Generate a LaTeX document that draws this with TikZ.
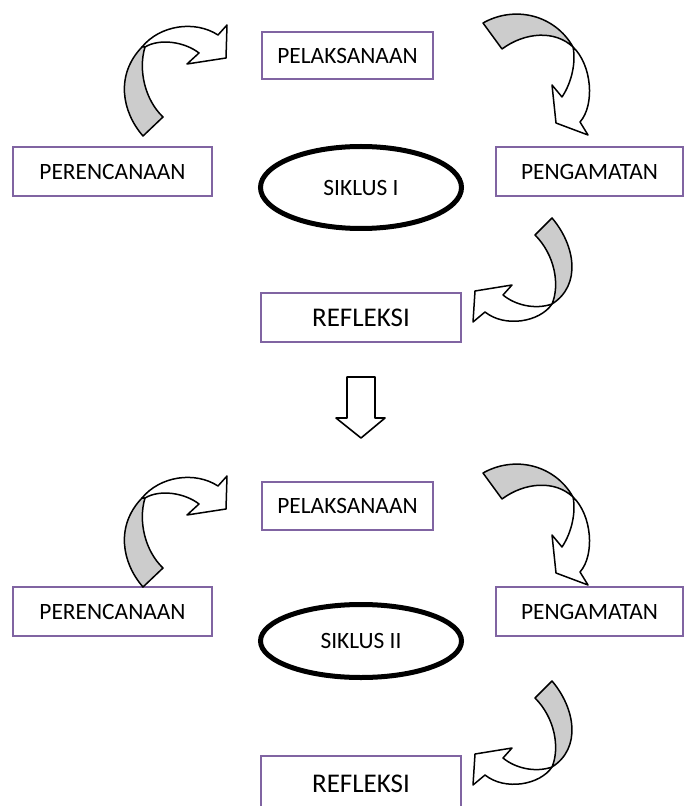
\documentclass[tikz,border=0pt]{standalone}
\usepackage{fontspec}
\setmainfont{Carlito}
\usetikzlibrary{shapes.geometric}
\definecolor{boxpurple}{RGB}{128,100,162}
\definecolor{arrgray}{RGB}{204,204,204}
\tikzset{
  box/.style={draw=boxpurple, line width=1pt, fill=white, inner sep=0pt,
    font=\fontsize{11.7}{14}\selectfont},
  bigbox/.style={box, font=\fontsize{13.5}{16}\selectfont},
  cyc/.style={ellipse, draw=black, line width=2.5pt, inner sep=0pt,
    minimum width=100.5pt, font=\fontsize{11.7}{14}\selectfont},
  arrline/.style={draw=black, line width=0.75pt, line join=round},
  arrA/.pic={
    \path[arrline, fill=white] (142,47) .. controls (160,25) and (195,20) .. (218,35)
      -- (227,25) -- (226,58) -- (187,64) -- (199,53)
      .. controls (185,42) and (160,38) .. (145,47) -- cycle;
    \path[arrline, fill=arrgray] (143,136) .. controls (122,112) and (115,75) .. (142,47)
      -- (145,47) .. controls (138,70) and (145,100) .. (163,117) -- cycle;
  },
  arrB/.pic={
    \path[arrline, fill=white] (573,47) .. controls (592,65) and (595,105) .. (580,122)
      -- (588,135) -- (556,123) -- (552,85) -- (562,97)
      .. controls (572,82) and (576,62) .. (573,47) -- cycle;
    \path[arrline, fill=arrgray] (483,23) .. controls (515,5) and (555,15) .. (573,47)
      .. controls (555,30) and (525,32) .. (502,49) -- cycle;
  },
  arrC/.pic={
    \path[arrline, fill=white] (552,304) .. controls (540,322) and (505,328) .. (485,312)
      -- (473,322) -- (475,291) -- (512,285) -- (503,295)
      .. controls (515,305) and (535,310) .. (552,304) -- cycle;
    \path[arrline, fill=arrgray] (535,235) -- (552,218)
      .. controls (575,245) and (582,285) .. (552,304)
      .. controls (560,285) and (555,255) .. (535,235) -- cycle;
  }
}
\begin{document}
\begin{tikzpicture}[x=0.5pt, y=-0.5pt]
\useasboundingbox[fill=white] (0,0) rectangle (684,806);

% ---- Cycle I ----
\node[box, minimum width=85.5pt, minimum height=23.5pt] (pel1) at (347.5,55.5) {PELAKSANAAN};
\node[box, minimum width=99.5pt, minimum height=24.5pt] (per1) at (112.5,171.5) {PERENCANAAN};
\node[box, minimum width=93.5pt, minimum height=24.5pt] (peng1) at (589.5,171.5) {PENGAMATAN};
\node[cyc, minimum height=41pt] (sik1) at (361,187.5) {SIKLUS I};
\node[bigbox, minimum width=100pt, minimum height=24.5pt] (ref1) at (361,317.5) {REFLEKSI};

\pic {arrA};
\pic {arrB};
\pic {arrC};

% ---- down arrow ----
\path[arrline, line width=0.8pt, fill=white] (347,377) -- (375,377) -- (375,418) -- (385,418)
  -- (361,438) -- (336,418) -- (347,418) -- cycle;

% ---- Cycle II ----
\node[box, minimum width=85.5pt, minimum height=24pt] (pel2) at (347.5,506) {PELAKSANAAN};
\node[box, minimum width=99.5pt, minimum height=24.5pt] (per2) at (112.5,611.5) {PERENCANAAN};
\node[box, minimum width=93.5pt, minimum height=24.5pt] (peng2) at (589.5,611.5) {PENGAMATAN};
\node[cyc, minimum height=36.5pt] (sik2) at (361,641) {SIKLUS II};
\node[bigbox, minimum width=100pt, minimum height=28pt] (ref2) at (361,784) {REFLEKSI};

\begin{scope}[shift={(0,451)}]
  \pic {arrA};
\end{scope}
\begin{scope}[shift={(0,450)}]
  \pic {arrB};
\end{scope}
\begin{scope}[shift={(0,463)}]
  \pic {arrC};
\end{scope}
\end{tikzpicture}
\end{document}
